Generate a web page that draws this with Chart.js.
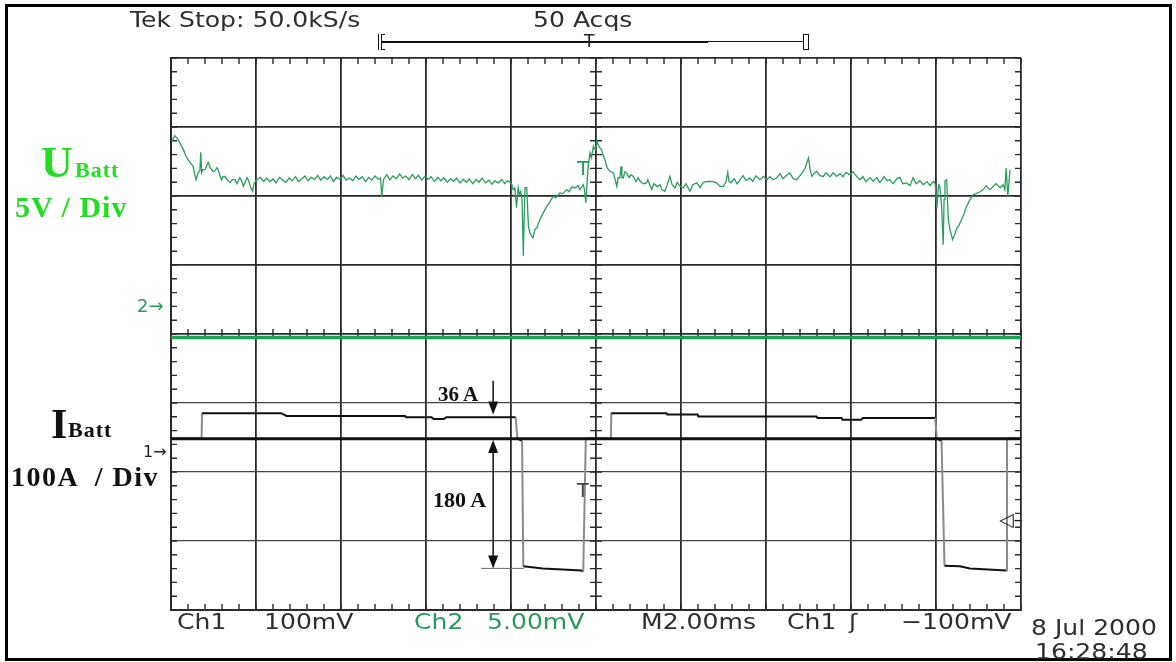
<!DOCTYPE html>
<html>
<head>
<meta charset="utf-8">
<script src="https://cdn.jsdelivr.net/npm/chart.js@4"></script>
<style>
  body { margin: 0; background: #fff; }
  #wrap { position: relative; width: 1176px; height: 662px; overflow: hidden; }
  #scope { position: absolute; left: 0; top: 0; }
  .frame { position: absolute; left: 5px; top: 4px; width: 1167px; height: 657px; box-sizing: border-box; border: 3px solid #000; }
  .t { position: absolute; line-height: 1; white-space: pre; transform-origin: left top; }
  .tek { font-family: "DejaVu Sans"; font-size: 22px; color: #2e2e2e; transform: scaleX(1.14); }
  .tek.g { color: #2a9a5a; }
  .serif { font-family: "Liberation Serif"; font-weight: bold; color: #111; }
  .big { color: #22dd22; }
  .mark { font-family: "DejaVu Sans"; }
  .bar { position: absolute; background: #111; }
</style>
</head>
<body>
<div id="wrap">
  <canvas id="scope" width="1176" height="662"></canvas>
  <div class="frame"></div>

  <!-- header -->
  <div class="t tek" style="left:130px;top:9px">Tek Stop: 50.0kS/s</div>
  <div class="t tek" style="left:533px;top:9px">50 Acqs</div>
  <div class="bar" style="left:378px;top:34px;width:1px;height:16px"></div>
  <div class="bar" style="left:381px;top:34px;width:1px;height:16px"></div>
  <div class="bar" style="left:381px;top:34px;width:4px;height:1px"></div>
  <div class="bar" style="left:381px;top:49px;width:4px;height:1px"></div>
  <div class="bar" style="left:382px;top:41px;width:326px;height:2px"></div>
  <div class="bar" style="left:708px;top:41px;width:95px;height:1px"></div>
  <div style="position:absolute;left:803px;top:34px;width:4px;height:14px;border:1px solid #111"></div>
  <div class="t mark" style="left:584px;top:33px;font-size:17px;color:#222">T</div>

  <!-- channel labels -->
  <div class="t serif big" style="left:41px;top:141px;font-size:44px">U</div>
  <div class="t serif big" style="left:75px;top:159px;font-size:22px;letter-spacing:1px">Batt</div>
  <div class="t serif big" style="left:15px;top:192px;font-size:30px;letter-spacing:1px">5V / Div</div>
  <div class="t serif" style="left:51px;top:403px;font-size:42px">I</div>
  <div class="t serif" style="left:68px;top:419px;font-size:22px;letter-spacing:1px">Batt</div>
  <div class="t serif" style="left:11px;top:463px;font-size:28px;letter-spacing:1.5px">100A  / Div</div>
  <div class="t mark" style="left:137px;top:297px;font-size:18px;color:#2a9a5a">2→</div>
  <div class="t mark" style="left:143px;top:444px;font-size:16px;color:#222">1→</div>
  <div class="t mark" style="left:577px;top:158px;font-size:20px;color:#2a9a5a">T</div>
  <div class="t mark" style="left:577px;top:481px;font-size:19px;color:#444">T</div>
  <div class="t mark" style="left:999px;top:510px;font-size:19px;color:#222">◁–</div>

  <!-- annotations -->
  <div class="t serif" style="left:438px;top:384px;font-size:21px">36 A</div>
  <div class="t serif" style="left:433px;top:489px;font-size:22px">180 A</div>

  <!-- footer -->
  <div class="t tek" style="left:177px;top:611px">Ch1</div>
  <div class="t tek" style="left:264px;top:611px">100mV</div>
  <div class="t tek g" style="left:414px;top:611px">Ch2</div>
  <div class="t tek g" style="left:487px;top:611px">5.00mV</div>
  <div class="t tek" style="left:641px;top:611px">M2.00ms</div>
  <div class="t tek" style="left:787px;top:611px">Ch1</div>
  <div class="t tek" style="left:849px;top:611px">ʃ</div>
  <div class="t tek" style="left:901px;top:611px">−100mV</div>
  <div class="t tek" style="left:1031px;top:617px">8 Jul 2000</div>
  <div class="t tek" style="left:1035px;top:641px">16:28:48</div>
</div>

<script>
// time in ms (M2.00ms -> 10 div = 20 ms)
const tU = [
  0.02, 0.09, 0.17, 0.24, 0.29, 0.35, 0.40, 0.45, 0.49, 0.52, 0.56, 0.59, 0.64, 0.68, 0.70, 0.72,
  0.75, 0.80, 0.85, 0.88, 0.92, 0.96, 0.99, 1.04, 1.08, 1.11, 1.15, 1.19, 1.22, 1.27, 1.32, 1.39,
  1.44, 1.51, 1.55, 1.62, 1.67, 1.70, 1.74, 1.79, 1.82, 1.86, 1.92, 1.95, 2.02,
  2.10, 2.18, 2.25, 2.33, 2.40, 2.47, 2.55, 2.62, 2.70, 2.78, 2.85, 2.93, 3.00, 3.08, 3.15, 3.22,
  3.30, 3.38, 3.45, 3.52, 3.60, 3.68, 3.75, 3.82, 3.90, 3.98, 4.05, 4.12, 4.20, 4.28, 4.35, 4.42,
  4.50, 4.58, 4.65, 4.72, 4.80, 4.88, 4.93, 4.96, 5.00, 5.08, 5.15, 5.22, 5.30, 5.38, 5.45, 5.52,
  5.60, 5.68, 5.75, 5.82, 5.90, 5.98, 6.05, 6.12, 6.20, 6.28, 6.35, 6.42, 6.50, 6.58, 6.65, 6.72,
  6.80, 6.88, 6.95, 7.02, 7.10, 7.18, 7.25, 7.32, 7.40, 7.48, 7.55, 7.62, 7.70, 7.78, 7.85, 7.92,
  7.98, 8.02, 8.05, 8.09, 8.13, 8.17, 8.20, 8.23, 8.26, 8.29, 8.32, 8.33, 8.37, 8.41, 8.45, 8.49,
  8.52, 8.56, 8.61, 8.68, 8.75, 8.84, 8.92, 8.99, 9.06, 9.15, 9.22, 9.31, 9.36, 9.44, 9.51, 9.58,
  9.62, 9.70, 9.73, 9.76, 9.80, 9.82, 9.86, 9.89, 9.94, 9.98, 10.02, 10.05, 10.09, 10.13, 10.16, 10.21,
  10.26, 10.33, 10.41, 10.45, 10.49, 10.52, 10.56, 10.59, 10.61, 10.64, 10.68, 10.72, 10.78, 10.82, 10.88, 10.94,
  10.99, 11.04, 11.11, 11.19, 11.22, 11.31, 11.36, 11.44, 11.51, 11.55, 11.62, 11.67, 11.74, 11.79, 11.86, 11.91,
  11.98, 12.05, 12.12, 12.21, 12.28, 12.37, 12.45, 12.52, 12.59, 12.68, 12.75, 12.84, 12.92, 13.00, 13.06, 13.10,
  13.13, 13.18, 13.25, 13.32, 13.39, 13.46, 13.53, 13.62, 13.69, 13.76, 13.86, 13.94, 14.02, 14.09, 14.16, 14.25,
  14.33, 14.40, 14.47, 14.56, 14.64, 14.72, 14.80, 14.87, 14.92, 15.00, 15.04, 15.08, 15.13, 15.19, 15.27, 15.35,
  15.41, 15.51, 15.58, 15.66, 15.74, 15.81, 15.88, 15.98, 16.05, 16.13, 16.21, 16.28, 16.35, 16.45, 16.52, 16.61,
  16.68, 16.78, 16.85, 16.92, 16.99, 17.08, 17.15, 17.22, 17.31, 17.39, 17.46, 17.53, 17.62, 17.70, 17.79, 17.86,
  17.94, 17.98, 18.02, 18.06, 18.09, 18.13, 18.17, 18.19, 18.21, 18.25, 18.29, 18.33, 18.39, 18.44, 18.49, 18.54,
  18.60, 18.66, 18.72, 18.80, 18.88, 18.94, 19.04, 19.11, 19.18, 19.27, 19.35, 19.41, 19.51, 19.58, 19.62, 19.65,
  19.69, 19.74
];
// U_Batt in volts (5 V/div)
const vU = [
  11.71, 12.12, 11.83, 11.40, 11.11, 10.67, 10.38, 10.17, 10.02, 9.90, 9.30, 8.93, 9.44, 9.59, 10.91, 9.44,
  9.66, 9.66, 10.02, 10.17, 9.80, 9.66, 9.51, 9.59, 9.80, 9.66, 9.22, 8.93, 9.15, 9.17, 8.93, 8.72,
  8.93, 8.93, 8.64, 9.08, 8.79, 8.45, 8.72, 9.08, 8.93, 8.50, 8.09, 8.64, 8.93,
  9.10, 8.80, 9.05, 8.78, 9.00, 8.70, 9.10, 8.92, 8.72, 9.05, 8.85, 9.15, 8.80, 9.00, 9.20, 8.85,
  9.10, 8.95, 9.25, 8.90, 9.15, 8.95, 9.20, 8.80, 9.10, 8.95, 9.25, 8.90, 9.05, 8.85, 9.20, 8.95,
  9.15, 8.80, 9.10, 8.90, 9.20, 8.95, 9.05, 7.70, 8.95, 9.30, 8.90, 9.20, 9.00, 9.35, 9.05, 9.20,
  8.95, 9.30, 9.00, 9.25, 8.90, 9.20, 8.95, 9.15, 8.80, 9.10, 8.85, 9.05, 8.75, 9.00, 8.80, 9.05,
  8.70, 8.95, 8.75, 9.00, 8.65, 8.95, 8.75, 9.05, 8.70, 8.90, 8.60, 8.85, 8.70, 8.95, 8.65, 8.85,
  8.75, 8.57, 8.21, 8.35, 6.91, 8.35, 7.85, 8.09, 7.49, 3.43, 7.49, 8.35, 8.35, 5.55, 5.02, 4.83,
  4.73, 5.31, 5.46, 6.04, 6.47, 7.00, 7.34, 7.72, 7.63, 7.97, 7.92, 8.21, 8.06, 8.43, 8.33, 8.50,
  8.21, 8.57, 8.21, 7.25, 9.17, 10.02, 10.87, 10.53, 11.35, 11.11, 11.71, 11.47, 11.25, 11.11, 10.75, 10.38,
  9.80, 9.54, 9.42, 8.93, 8.45, 9.08, 9.06, 9.90, 9.08, 9.06, 9.51, 9.42, 9.08, 9.30, 9.17, 8.79,
  9.08, 8.81, 8.64, 8.70, 8.93, 8.21, 8.64, 8.43, 8.57, 8.21, 8.09, 8.50, 9.17, 8.57, 8.33, 8.72,
  8.45, 8.35, 8.64, 8.09, 8.57, 8.70, 8.35, 8.72, 8.79, 8.81, 8.79, 8.70, 8.45, 8.45, 8.79, 9.46,
  8.79, 8.72, 9.01, 8.64, 8.93, 9.22, 8.86, 9.06, 8.79, 9.22, 8.93, 9.17, 8.93, 9.15, 8.93, 9.06,
  9.37, 9.01, 9.22, 9.42, 9.01, 8.93, 9.22, 9.51, 9.78, 10.51, 9.66, 9.17, 9.37, 9.54, 9.22, 9.17,
  9.44, 9.15, 9.44, 9.17, 9.37, 9.15, 9.44, 9.30, 9.51, 9.17, 8.93, 9.15, 8.79, 9.08, 8.81, 9.08,
  8.72, 9.15, 8.86, 8.93, 8.64, 9.01, 9.08, 8.64, 8.70, 8.50, 9.08, 8.64, 8.86, 8.57, 8.79, 8.50,
  8.81, 8.64, 6.88, 8.57, 8.45, 7.12, 4.22, 7.49, 8.81, 8.93, 6.04, 5.31, 4.59, 4.95, 5.43, 5.60,
  6.04, 6.47, 7.00, 7.49, 7.85, 7.92, 8.06, 8.21, 8.50, 8.21, 8.45, 8.64, 8.35, 8.57, 8.21, 9.78,
  7.72, 9.66
];

// I_Batt in amps (100 A/div)
const tI = [0, 0.72, 0.73, 2.59, 2.72, 5.51, 5.53, 6.13, 6.18, 6.42, 6.48, 8.11, 8.15, 8.26, 8.29, 8.75,
  9.66, 9.70, 9.76, 10.35, 10.36, 11.66, 11.68, 12.39, 12.41, 15.19, 15.21, 15.78, 15.80, 16.24, 16.28,
  17.98, 18.02, 18.13, 18.20, 18.56, 18.80, 19.65, 19.67, 20];
const aI = [0, 0, 37, 37, 33, 33, 31, 31, 28.5, 28.5, 31, 31, 0, -3, -185, -188,
  -191, -193, 0, 0, 37, 37, 35, 35, 32, 32, 30, 30, 27.5, 27.5, 30,
  30, 0, -3, -184, -185, -188, -191, 0, 0];

// reference lines
const uRefLevel = -2.5;   // V
const iRefLevel = 0;      // A
const timeSpan = [0, 20];

// hand-drawn annotations (ms / A)
const arrowTime = 7.58;
const arrow36 = [84, 35];
const arrow180 = [-2, -188];
const ref180 = [7.3, 8.3];

// screen divisions: 10 x 8, voltage ground at 2->, current zero on the thick line
const uRange = [-22.25, 17.75];
const iRange = [-248.3, 551.7];

const gridColor = "#2a2a2a";

const scopeTicks = {
  id: "scopeTicks",
  beforeDatasetsDraw(chart) {
    const { ctx, chartArea: a, scales: { x, y } } = chart;
    const cy = y.getPixelForValue(0);
    const cx = x.getPixelForValue(10);
    ctx.save();
    ctx.strokeStyle = gridColor;
    ctx.lineWidth = 1.4;
    ctx.beginPath();
    for (let i = 0; i <= 50; i++) {
      const px = x.getPixelForValue(i * 0.4);
      ctx.moveTo(px, a.top); ctx.lineTo(px, a.top + 6);
      ctx.moveTo(px, a.bottom); ctx.lineTo(px, a.bottom - 6);
      ctx.moveTo(px, cy - 5); ctx.lineTo(px, cy + 5);
    }
    for (let i = 0; i <= 40; i++) {
      const py = y.getPixelForValue(-4 + i * 0.2);
      ctx.moveTo(a.left, py); ctx.lineTo(a.left + 6, py);
      ctx.moveTo(a.right, py); ctx.lineTo(a.right - 6, py);
      ctx.moveTo(cx - 6, py); ctx.lineTo(cx + 6, py);
    }
    ctx.stroke();
    ctx.restore();
  }
};

function arrowHead(ctx, x, y, dir) {
  ctx.beginPath();
  ctx.moveTo(x, y);
  ctx.lineTo(x - 5, y - dir * 13);
  ctx.lineTo(x + 5, y - dir * 13);
  ctx.closePath();
  ctx.fill();
}

const scopeNotes = {
  id: "scopeNotes",
  afterDatasetsDraw(chart) {
    const { ctx, scales: { x, yI } } = chart;
    const ax = x.getPixelForValue(arrowTime);
    ctx.save();
    ctx.strokeStyle = "#111";
    ctx.fillStyle = "#111";
    ctx.lineWidth = 1.5;

    // 36 A arrow
    let y0 = yI.getPixelForValue(arrow36[0]);
    let y1 = yI.getPixelForValue(arrow36[1]);
    ctx.beginPath(); ctx.moveTo(ax, y0); ctx.lineTo(ax, y1 - 10); ctx.stroke();
    arrowHead(ctx, ax, y1, 1);

    // 180 A double arrow
    y0 = yI.getPixelForValue(arrow180[0]);
    y1 = yI.getPixelForValue(arrow180[1]);
    ctx.beginPath(); ctx.moveTo(ax, y0 + 10); ctx.lineTo(ax, y1 - 10); ctx.stroke();
    arrowHead(ctx, ax, y0, -1);
    arrowHead(ctx, ax, y1, 1);

    ctx.strokeStyle = "#666";
    ctx.lineWidth = 1;
    ctx.beginPath();
    ctx.moveTo(x.getPixelForValue(ref180[0]), y1);
    ctx.lineTo(x.getPixelForValue(ref180[1]), y1);
    ctx.stroke();
    ctx.restore();
  }
};

document.addEventListener("DOMContentLoaded", function () {
  const uData = tU.map((t, i) => ({ x: t, y: vU[i] }));
  const iData = tI.map((t, i) => ({ x: t, y: aI[i] }));

  new Chart(document.getElementById("scope"), {
    type: "line",
    data: {
      datasets: [
        {
          label: "U ref",
          data: timeSpan.map(t => ({ x: t, y: uRefLevel })),
          yAxisID: "yU",
          borderColor: "#1e9e52",
          borderWidth: 3.5
        },
        {
          label: "I ref",
          data: timeSpan.map(t => ({ x: t, y: iRefLevel })),
          yAxisID: "yI",
          borderColor: "#111",
          borderWidth: 3
        },
        {
          label: "UBatt",
          data: uData,
          yAxisID: "yU",
          borderColor: "#2a9d5c",
          borderWidth: 1.3
        },
        {
          label: "IBatt",
          data: iData,
          yAxisID: "yI",
          borderColor: "#111",
          borderWidth: 2,
          segment: {
            borderColor: c => Math.abs(c.p1.parsed.y - c.p0.parsed.y) > 20 ? "#8a8a8a" : "#111"
          }
        }
      ]
    },
    options: {
      responsive: false,
      animation: false,
      devicePixelRatio: 1,
      layout: { padding: { left: 171, right: 155, top: 58, bottom: 52 } },
      elements: { point: { radius: 0 }, line: { tension: 0 } },
      plugins: {
        legend: { display: false },
        tooltip: { enabled: false }
      },
      scales: {
        x: {
          type: "linear",
          min: 0,
          max: 20,
          ticks: { display: false, stepSize: 2 },
          grid: { color: gridColor, lineWidth: 1.8, drawTicks: false },
          border: { display: true, color: gridColor, width: 2 }
        },
        y: {
          type: "linear",
          min: -4,
          max: 4,
          ticks: { display: false, stepSize: 1 },
          grid: {
            color: c => c.tick && c.tick.value < 0 && c.tick.value > -4 ? "#444" : gridColor,
            lineWidth: c => c.tick && c.tick.value < 0 && c.tick.value > -4 ? 1.2 : 1.8,
            drawTicks: false
          },
          border: { display: true, color: gridColor, width: 2 }
        },
        yU: { type: "linear", display: false, min: uRange[0], max: uRange[1] },
        yI: { type: "linear", display: false, min: iRange[0], max: iRange[1] }
      }
    },
    plugins: [scopeTicks, scopeNotes]
  });
});
</script>
</body>
</html>
